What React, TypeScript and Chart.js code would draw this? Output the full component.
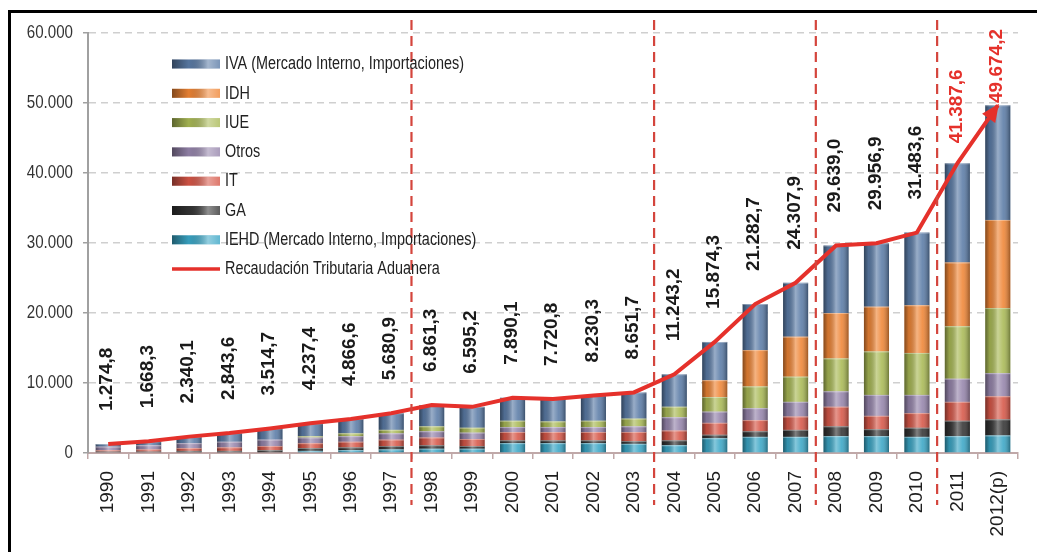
import React, { useEffect, useRef } from "react";
import { Chart, registerables } from "chart.js";

Chart.register(...registerables);

// Years on the category axis
const years = [
  "1990", "1991", "1992", "1993", "1994", "1995", "1996", "1997", "1998", "1999",
  "2000", "2001", "2002", "2003", "2004", "2005", "2006", "2007", "2008", "2009",
  "2010", "2011", "2012(p)",
];

// Total customs tax collection (millions of Bs)
const recaudacionTotal = [
  1274.8, 1668.3, 2340.1, 2843.6, 3514.7, 4237.4, 4866.6, 5680.9, 6861.3, 6595.2,
  7890.1, 7720.8, 8230.3, 8651.7, 11243.2, 15874.3, 21282.7, 24307.9, 29639.0, 29956.9,
  31483.6, 41387.6, 49674.2,
];

// Stack components, bottom to top
const iehd = [
  0, 0, 0, 0, 0, 300, 400, 500, 600, 600,
  1400, 1400, 1400, 1300, 1100, 2100, 2300, 2300, 2400, 2400,
  2300, 2400, 2500,
];
const ga = [
  200, 200, 300, 300, 400, 400, 400, 500, 500, 400,
  400, 400, 400, 400, 700, 500, 800, 1000, 1400, 1000,
  1300, 2200, 2300,
];
const it = [
  200, 300, 400, 500, 600, 700, 800, 900, 1100, 1000,
  1200, 1200, 1200, 1300, 1400, 1700, 1600, 1900, 2800, 1900,
  2100, 2700, 3300,
];
const otros = [
  500, 600, 700, 800, 900, 800, 800, 900, 900, 900,
  700, 700, 700, 800, 1900, 1600, 1700, 2100, 2200, 3000,
  2600, 3300, 3300,
];
const iue = [
  0, 0, 0, 0, 0, 200, 400, 500, 700, 700,
  900, 800, 900, 1100, 1500, 2100, 3100, 3600, 4700, 6200,
  6000, 7500, 9300,
];
const idh = [
  0, 0, 0, 0, 0, 0, 0, 0, 0, 0,
  0, 0, 0, 0, 0, 2400, 5200, 5700, 6500, 6400,
  6800, 9100, 12600,
];
const iva = [
  374.8, 568.3, 940.1, 1243.6, 1614.7, 1837.4, 2066.6, 2380.9, 3061.3, 2995.2,
  3290.1, 3220.8, 3630.3, 3751.7, 4643.2, 5474.3, 6582.7, 7707.9, 9639.0, 9056.9,
  10383.6, 14187.6, 16374.2,
];

// Period separators are drawn after these years
const periodEnds = ["1997", "2003", "2007", "2010"];
// Years whose total label is highlighted
const highlightedYears = ["2011", "2012(p)"];

const yTicks = [0, 10000, 20000, 30000, 40000, 50000, 60000];

const COLORS = {
  iva: "#5a7ba6",
  idh: "#ef8535",
  iue: "#a9b955",
  otros: "#9584ab",
  it: "#d65647",
  ga: "#333333",
  iehd: "#3aa6c6",
  line: "#e5312b",
};

const NARROW = "'Liberation Sans', Arial, sans-serif";

function formatEs(v: number, decimals: number): string {
  const [intPart, decPart] = v.toFixed(decimals).split(".");
  const grouped = intPart.replace(/\B(?=(\d{3})+(?!\d))/g, ".");
  return decPart ? `${grouped},${decPart}` : grouped;
}

// Cylinder-like shading laid over every bar segment
const barShading = {
  id: "barShading",
  afterDatasetDraw(chart: any, args: any) {
    const meta = args.meta;
    if (meta.type !== "bar") return;
    const ctx = chart.ctx;
    ctx.save();
    meta.data.forEach((el: any) => {
      const { x, y, base, width } = el.getProps(["x", "y", "base", "width"], true);
      const h = base - y;
      if (!(h > 0.5)) return;
      const left = x - width / 2;
      const g = ctx.createLinearGradient(left, 0, left + width, 0);
      g.addColorStop(0, "rgba(0,0,0,0.45)");
      g.addColorStop(0.18, "rgba(0,0,0,0.12)");
      g.addColorStop(0.5, "rgba(255,255,255,0.38)");
      g.addColorStop(0.72, "rgba(255,255,255,0.12)");
      g.addColorStop(1, "rgba(0,0,0,0.35)");
      ctx.fillStyle = g;
      ctx.fillRect(left, y, width, h);
      ctx.fillStyle = "rgba(255,255,255,0.35)";
      ctx.fillRect(left, y, width, Math.min(1, h));
    });
    ctx.restore();
  },
};

// Red dashed separators between periods
const periodDividers = {
  id: "periodDividers",
  afterDatasetsDraw(chart: any) {
    const xs = chart.scales.x;
    const ctx = chart.ctx;
    ctx.save();
    ctx.strokeStyle = "#d4453d";
    ctx.lineWidth = 2.2;
    ctx.setLineDash([10, 6]);
    periodEnds.forEach((yr) => {
      const i = years.indexOf(yr);
      const px = (xs.getPixelForValue(i) + xs.getPixelForValue(i + 1)) / 2;
      ctx.beginPath();
      ctx.moveTo(px, 20);
      ctx.lineTo(px, 505);
      ctx.stroke();
    });
    ctx.restore();
  },
};

// Rotated total labels above each bar and the arrow head at the end of the line
const totalsAndArrow = {
  id: "totalsAndArrow",
  afterDatasetsDraw(chart: any) {
    const ctx = chart.ctx;
    const xs = chart.scales.x;
    const ys = chart.scales.y;
    ctx.save();
    ctx.font = `bold 19px ${NARROW}`;
    ctx.textBaseline = "middle";
    ctx.textAlign = "left";
    recaudacionTotal.forEach((v, i) => {
      const hl = highlightedYears.includes(years[i]);
      const text = formatEs(v, 1);
      const w = ctx.measureText(text).width;
      const x = xs.getPixelForValue(i);
      const top = ys.getPixelForValue(v);
      let bottom = top - (hl ? 20 : 33);
      if (bottom - w < 29) bottom = 29 + w;
      ctx.save();
      ctx.translate(x - 1, bottom);
      ctx.rotate(-Math.PI / 2);
      ctx.fillStyle = hl ? COLORS.line : "#1a1a1a";
      ctx.fillText(text, 0, 0);
      ctx.restore();
    });

    const lineMeta = chart.getDatasetMeta(chart.data.datasets.length - 1);
    const pts = lineMeta.data;
    const p1 = pts[pts.length - 2];
    const p2 = pts[pts.length - 1];
    const ang = Math.atan2(p2.y - p1.y, p2.x - p1.x);
    const len = 16;
    const half = 8;
    ctx.fillStyle = COLORS.line;
    ctx.beginPath();
    ctx.moveTo(p2.x + Math.cos(ang) * 2, p2.y + Math.sin(ang) * 2);
    ctx.lineTo(
      p2.x - Math.cos(ang) * len + Math.cos(ang + Math.PI / 2) * half,
      p2.y - Math.sin(ang) * len + Math.sin(ang + Math.PI / 2) * half
    );
    ctx.lineTo(
      p2.x - Math.cos(ang) * len - Math.cos(ang + Math.PI / 2) * half,
      p2.y - Math.sin(ang) * len - Math.sin(ang + Math.PI / 2) * half
    );
    ctx.closePath();
    ctx.fill();
    ctx.restore();
  },
};

// Y tick labels in a condensed face
const yLabels = {
  id: "yLabels",
  afterDraw(chart: any) {
    const ctx = chart.ctx;
    const ys = chart.scales.y;
    ctx.save();
    ctx.font = `18px ${NARROW}`;
    ctx.fillStyle = "#333";
    ctx.textAlign = "right";
    ctx.textBaseline = "middle";
    yTicks.forEach((t) => {
      const y = ys.getPixelForValue(t);
      ctx.save();
      ctx.translate(73, y);
      ctx.scale(0.84, 1.05);
      ctx.fillText(formatEs(t, 0), 0, 0);
      ctx.restore();
    });
    ctx.restore();
  },
};

// Legend drawn inside the plot area
const innerLegend = {
  id: "innerLegend",
  afterDraw(chart: any) {
    const ctx = chart.ctx;
    const sets = chart.data.datasets;
    const order = [6, 5, 4, 3, 2, 1, 0, 7];
    const x0 = 172;
    const sw = 48;
    const y0 = 64;
    const step = 29.3;
    ctx.save();
    ctx.font = `18px ${NARROW}`;
    ctx.textBaseline = "middle";
    ctx.textAlign = "left";
    order.forEach((di, row) => {
      const ds = sets[di];
      const cy = y0 + row * step;
      if (ds.type === "line") {
        ctx.strokeStyle = ds.borderColor;
        ctx.lineWidth = 3.5;
        ctx.beginPath();
        ctx.moveTo(x0, cy);
        ctx.lineTo(x0 + sw, cy);
        ctx.stroke();
      } else {
        ctx.fillStyle = ds.backgroundColor;
        ctx.fillRect(x0, cy - 4.5, sw, 9);
        const g = ctx.createLinearGradient(x0, 0, x0 + sw, 0);
        g.addColorStop(0, "rgba(0,0,0,0.45)");
        g.addColorStop(0.35, "rgba(0,0,0,0.05)");
        g.addColorStop(0.75, "rgba(255,255,255,0.45)");
        g.addColorStop(1, "rgba(255,255,255,0.2)");
        ctx.fillStyle = g;
        ctx.fillRect(x0, cy - 4.5, sw, 9);
      }
      ctx.save();
      ctx.translate(x0 + sw + 5, cy);
      ctx.scale(0.8, 1.05);
      ctx.fillStyle = "#222";
      ctx.fillText(ds.label, 0, 0);
      ctx.restore();
    });
    ctx.restore();
  },
};

function barSet(label: string, data: number[], color: string) {
  return {
    type: "bar" as const,
    label,
    data,
    backgroundColor: color,
    borderWidth: 0,
    barPercentage: 0.62,
    categoryPercentage: 1,
    stack: "impuestos",
    order: 1,
  };
}

export default function App() {
  const canvasRef = useRef<HTMLCanvasElement>(null);

  useEffect(() => {
    const canvas = canvasRef.current;
    if (!canvas) return;
    const chart = new Chart(canvas, {
      type: "bar",
      data: {
        labels: years,
        datasets: [
          barSet("IEHD (Mercado Interno, Importaciones)", iehd, COLORS.iehd),
          barSet("GA", ga, COLORS.ga),
          barSet("IT", it, COLORS.it),
          barSet("Otros", otros, COLORS.otros),
          barSet("IUE", iue, COLORS.iue),
          barSet("IDH", idh, COLORS.idh),
          barSet("IVA (Mercado Interno, Importaciones)", iva, COLORS.iva),
          {
            type: "line" as const,
            label: "Recaudación Tributaria Aduanera",
            data: recaudacionTotal,
            borderColor: COLORS.line,
            backgroundColor: COLORS.line,
            borderWidth: 4,
            pointRadius: 0,
            tension: 0,
            stack: "total",
            order: 0,
          } as any,
        ],
      },
      options: {
        responsive: false,
        animation: false,
        events: [],
        layout: { padding: { left: 0, top: 33, right: 19, bottom: 0 } },
        plugins: {
          legend: { display: false },
          tooltip: { enabled: false },
        },
        scales: {
          x: {
            stacked: true,
            grid: {
              display: true,
              drawOnChartArea: false,
              drawTicks: true,
              tickLength: 6,
              color: "#c0a8a8",
              lineWidth: 1.5,
            },
            border: { display: true, color: "#c0a8a8", width: 2 },
            ticks: {
              minRotation: 90,
              maxRotation: 90,
              autoSkip: false,
              padding: 12,
              color: "#1e1e1e",
              font: { family: NARROW, size: 19 },
            },
            afterFit(scale: any) {
              scale.height = 99;
            },
          },
          y: {
            stacked: true,
            min: 0,
            max: 60000,
            ticks: { stepSize: 10000, display: false },
            grid: {
              color: "#cfcfcf",
              lineWidth: 1.5,
              drawTicks: true,
              tickLength: 5,
              tickColor: "#a0a0a0",
            },
            border: { display: true, color: "#a0a0a0", width: 2, dash: [7, 5] },
            afterFit(scale: any) {
              scale.width = 88;
            },
          },
        },
      },
      plugins: [barShading, periodDividers, totalsAndArrow, yLabels, innerLegend],
    });
    return () => chart.destroy();
  }, []);

  return (
    <div
      style={{
        position: "fixed",
        left: 0,
        top: 0,
        width: 1037,
        height: 552,
        background: "#ffffff",
        overflow: "hidden",
      }}
    >
      <canvas
        ref={canvasRef}
        width={1037}
        height={552}
        style={{ position: "absolute", left: 0, top: 0, width: 1037, height: 552 }}
      />
      <div
        style={{
          position: "absolute",
          left: 8,
          top: 10,
          width: 1100,
          height: 700,
          border: "3px solid #000",
          boxSizing: "border-box",
          pointerEvents: "none",
        }}
      />
    </div>
  );
}
